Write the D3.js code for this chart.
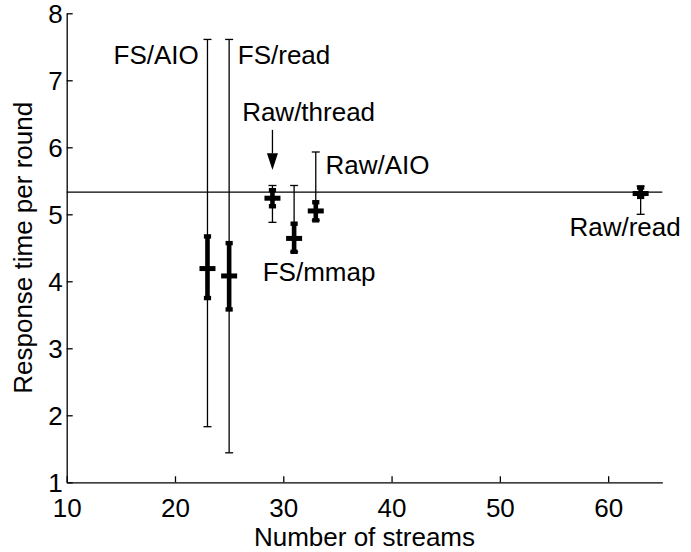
<!DOCTYPE html>
<html>
<head>
<meta charset="utf-8">
<script src="https://cdn.jsdelivr.net/npm/d3@7"></script>
<style>
  body { margin: 0; background: #fff; }
  text { font-family: "Liberation Sans", Arial, Helvetica, sans-serif; fill: #000; }
</style>
</head>
<body>
<script>
// chart size
var w = 691;
var h = 552;

var pad = { top: 13.3, bottom: 69.7, left: 66.7, right: 28.7 };

// data
var configs = ["FS/AIO", "FS/read", "Raw/thread", "FS/mmap", "Raw/AIO", "Raw/read"];
var streams = [23, 25, 29, 31, 33, 63];
var meanTime = [4.19, 4.08, 5.24, 4.64, 5.05, 5.31];
var innerLow = [3.75, 3.58, 5.12, 4.44, 4.91, 5.26];
var innerHigh = [4.67, 4.57, 5.36, 4.86, 5.18, 5.40];
var outerLow = [1.83, 1.44, 4.88, 4.44, 4.91, 5.00];
var outerHigh = [7.61, 7.61, 5.43, 5.43, 5.93, 5.42];
var baseline = 5.33;

var xTicks = [10, 20, 30, 40, 50, 60];
var yTicks = [1, 2, 3, 4, 5, 6, 7, 8];

// label placement (x in streams, y in response time)
var labelX = [22.2, 25.8, 26.2, 28.1, 33.9, 66.7];
var labelY = [7.24, 7.24, 6.39, 4.0, 5.60, 4.68];
var labelAnchor = ["end", "start", "start", "start", "start", "end"];

// arrow: from, head start, tip (response time at 29 streams)
var arrowX = 29;
var arrowY = [6.26, 5.91, 5.66];

var xScale = d3.scaleLinear()
               .domain([10, 65])
               .range([pad.left, w - pad.right]);

var yScale = d3.scaleLinear()
               .domain([1, 8])
               .range([h - pad.bottom, pad.top]);

var svg = d3.select("body")
            .append("svg")
            .attr("width", w)
            .attr("height", h);

// axes, ticks point inwards
var xAxis = d3.axisBottom(xScale)
              .tickValues(xTicks)
              .tickFormat(d3.format("d"))
              .tickSizeInner(-6)
              .tickSizeOuter(0)
              .tickPadding(16);

var yAxis = d3.axisLeft(yScale)
              .tickValues(yTicks)
              .tickFormat(d3.format("d"))
              .tickSizeInner(-6)
              .tickSizeOuter(0)
              .tickPadding(4);

var gx = svg.append("g")
   .attr("transform", "translate(0," + (h - pad.bottom) + ")")
   .call(xAxis);

var gy = svg.append("g")
   .attr("transform", "translate(" + pad.left + ",0)")
   .call(yAxis);

[gx, gy].forEach(function(g) {
  g.selectAll("path, line").attr("stroke", "#000").attr("stroke-width", 1.3);
  g.selectAll("text").attr("font-size", 26).attr("fill", "#000")
   .style("font-family", '"Liberation Sans", Arial, sans-serif');
});
gy.selectAll("text").attr("dy", "0.36em");

// horizontal reference line
svg.append("line")
   .attr("x1", xScale(10))
   .attr("x2", xScale(65))
   .attr("y1", yScale(baseline))
   .attr("y2", yScale(baseline))
   .attr("stroke", "#000")
   .attr("stroke-width", 1.3);

var idx = d3.range(configs.length);

// thin error bars (full range)
var thin = svg.append("g").attr("stroke", "#000").attr("stroke-width", 1.3);
idx.forEach(function(i) {
  var x = xScale(streams[i]);
  thin.append("line")
      .attr("x1", x).attr("x2", x)
      .attr("y1", yScale(outerLow[i])).attr("y2", yScale(outerHigh[i]));
  [outerLow[i], outerHigh[i]].forEach(function(v) {
    thin.append("line")
        .attr("x1", x - 4).attr("x2", x + 4)
        .attr("y1", yScale(v)).attr("y2", yScale(v));
  });
});

// thick error bars + centre marks
var thick = svg.append("g").attr("fill", "#000");
idx.forEach(function(i) {
  var x = xScale(streams[i]);
  var top = yScale(innerHigh[i]);
  var bot = yScale(innerLow[i]);
  thick.append("rect")
       .attr("x", x - 2.3).attr("width", 4.6)
       .attr("y", top).attr("height", bot - top);
  [top, bot].forEach(function(y) {
    thick.append("rect")
         .attr("x", x - 3.6).attr("width", 7.2)
         .attr("y", y - 2.2).attr("height", 4.4);
  });
  thick.append("rect")
       .attr("x", x - 8).attr("width", 16)
       .attr("y", yScale(meanTime[i]) - 2.5).attr("height", 5);
});

// arrow pointing at Raw/thread
var ax = xScale(arrowX);
svg.append("line")
   .attr("x1", ax).attr("x2", ax)
   .attr("y1", yScale(arrowY[0])).attr("y2", yScale(arrowY[1]))
   .attr("stroke", "#000").attr("stroke-width", 1.3);
svg.append("path")
   .attr("d", "M" + (ax - 5.5) + "," + yScale(arrowY[1]) + "L" + (ax + 5.5) + "," + yScale(arrowY[1]) +
              "L" + ax + "," + yScale(arrowY[2]) + "Z")
   .attr("fill", "#000");

// configuration labels
svg.selectAll(".lab")
   .data(idx)
   .enter()
   .append("text")
   .attr("class", "lab")
   .attr("x", function(i) { return xScale(labelX[i]); })
   .attr("y", function(i) { return yScale(labelY[i]); })
   .attr("text-anchor", function(i) { return labelAnchor[i]; })
   .attr("font-size", 26)
   .text(function(i) { return configs[i]; });

// axis titles
svg.append("text")
   .attr("x", (xScale(10) + xScale(65)) / 2)
   .attr("y", 546)
   .attr("text-anchor", "middle")
   .attr("font-size", 26)
   .text("Number of streams");

svg.append("text")
   .attr("transform", "translate(32," + (yScale(4.5)) + ") rotate(-90)")
   .attr("text-anchor", "middle")
   .attr("font-size", 26)
   .text("Response time per round");
</script>
</body>
</html>
